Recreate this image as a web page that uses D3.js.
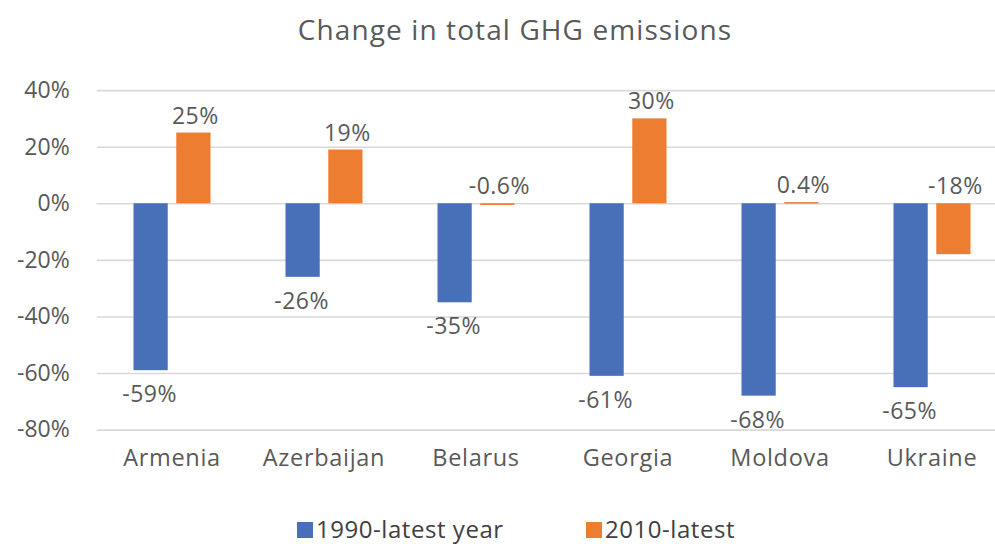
<!DOCTYPE html>
<html>
<head>
<meta charset="utf-8">
<script src="https://cdn.jsdelivr.net/npm/d3@7"></script>
<style>
  body { margin: 0; background: #fff; }
  svg { display: block; font-family: "Open Sans", Lato, sans-serif; }
</style>
</head>
<body>
<svg id="vis" width="995" height="544"></svg>
<script>
// data
const countries = ["Armenia", "Azerbaijan", "Belarus", "Georgia", "Moldova", "Ukraine"];
const seriesNames = ["1990-latest year", "2010-latest"];
const since1990 = [-59, -26, -35, -61, -68, -65];
const since2010 = [25, 19, -0.6, 30, 0.4, -18];
const labels1990 = ["-59%", "-26%", "-35%", "-61%", "-68%", "-65%"];
const labels2010 = ["25%", "19%", "-0.6%", "30%", "0.4%", "-18%"];
const yTicks = [40, 20, 0, -20, -40, -60, -80];
const colors = ["#4770B9", "#ED7D31"];

const FONT = "'Open Sans', Lato, sans-serif";
const svg = d3.select("#vis");

let rows = countries.map((c, i) => ({
  country: c,
  values: [
    { key: seriesNames[0], idx: 0, v: since1990[i], label: labels1990[i] },
    { key: seriesNames[1], idx: 1, v: since2010[i], label: labels2010[i] }
  ]
}));

const x0 = d3.scaleBand().domain(countries).range([96, 1008]);
const groupW = 77;
const x1 = d3.scaleBand().domain(seriesNames).range([0, groupW]).paddingInner(0.2);
const y = d3.scaleLinear().domain([-80, 40]).range([429.6, 90.1]);

// title
svg.append("text")
  .attr("x", 515).attr("y", 40)
  .attr("text-anchor", "middle")
  .attr("font-size", 28)
  .attr("letter-spacing", 1.1)
  .attr("fill", "#595959")
  .text("Change in total GHG emissions");

// y axis + gridlines
const yAxis = svg.append("g")
  .attr("transform", "translate(96.7,0)")
  .call(d3.axisLeft(y).tickValues(yTicks).tickFormat(d => d + "%")
    .tickSize(-1000).tickPadding(27));
yAxis.select(".domain").remove();
yAxis.selectAll("line").attr("stroke", "#d9d9d9").attr("stroke-width", 1.6);
yAxis.selectAll("text").attr("font-size", 23).attr("fill", "#595959")
  .attr("font-family", FONT);

// bars
let g = svg.append("g").selectAll("g")
  .data(rows)
  .join("g")
  .attr("transform", d => `translate(${x0(d.country) + (x0.bandwidth() - groupW) / 2},0)`);

g.selectAll("rect")
  .data(d => d.values)
  .join("rect")
  .attr("x", d => x1(d.key))
  .attr("width", x1.bandwidth())
  .attr("y", d => y(Math.max(0, d.v)))
  .attr("height", d => Math.max(1.5, Math.abs(y(d.v) - y(0))))
  .attr("fill", d => colors[d.idx]);

// data labels: blue below the bar end, orange above the top of the bar
g.selectAll("text")
  .data(d => d.values)
  .join("text")
  .attr("x", d => x1(d.key) + x1.bandwidth() / 2 + (d.idx === 1 ? 2 : -1))
  .attr("y", d => d.idx === 0 ? y(d.v) + 32 : y(Math.max(0, d.v)) - 9)
  .attr("text-anchor", "middle")
  .attr("font-size", 23)
  .attr("letter-spacing", 0.5)
  .attr("fill", "#595959")
  .text(d => d.label);

// category axis
const xAxis = svg.append("g")
  .attr("transform", "translate(0,429.6)")
  .call(d3.axisBottom(x0).tickSize(0).tickPadding(20));
xAxis.select(".domain").remove();
xAxis.selectAll("text").attr("font-size", 23.5).attr("fill", "#595959")
  .attr("letter-spacing", 0.7)
  .attr("font-family", FONT);

// legend
const legend = svg.append("g").selectAll("g")
  .data(seriesNames)
  .join("g")
  .attr("transform", (d, i) => `translate(${i === 0 ? 297 : 586},522)`);
legend.append("rect").attr("width", 16).attr("height", 16)
  .attr("fill", (d, i) => colors[i]);
legend.append("text")
  .attr("x", 19).attr("y", 16)
  .attr("font-size", 24)
  .attr("letter-spacing", 0.55)
  .attr("fill", "#404040")
  .text(d => d);
</script>
</body>
</html>
